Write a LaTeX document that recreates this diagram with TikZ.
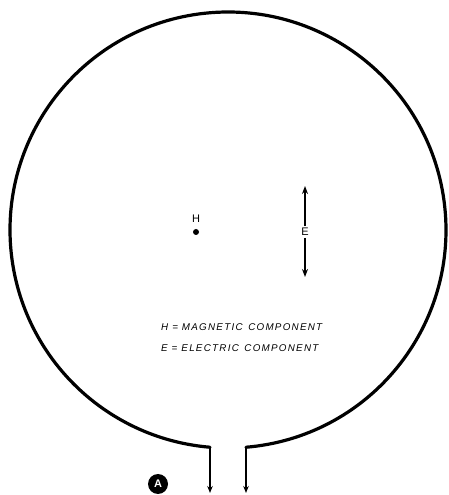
\documentclass[tikz,border=0pt]{standalone}
\usepackage{fontspec}
\setmainfont{Liberation Sans}
\newfontfamily\legendfont[LetterSpace=13]{Liberation Sans}
\usetikzlibrary{positioning, calc, arrows.meta}

\begin{document}
\begin{tikzpicture}[
  x=1pt, y=1pt,
  ring/.style={line width=3.2pt, line cap=round},
  lead/.style={line width=1.8pt, -{Stealth[length=7pt, width=5.5pt]}},
  efield/.style={line width=1.4pt, -{Stealth[length=8pt, width=6pt]}},
  letter/.style={font=\fontsize{11}{13}\selectfont, inner sep=2pt},
  legend/.style={font=\legendfont\itshape\fontsize{9.8}{12}\selectfont, anchor=west, inner sep=0pt},
  badge/.style={circle, fill=black, minimum size=20pt, inner sep=0pt,
    text=white, font=\bfseries\fontsize{11}{12}\selectfont}
]
  \useasboundingbox (0,0) rectangle (449,495);

  % loop and its two leads
  \coordinate (c) at (228,265);
  \coordinate (lt) at ([shift={(265.26:218)}]c);
  \coordinate (rt) at ([shift={(274.74:218)}]c);
  \coordinate (la) at (210,2);
  \coordinate (ra) at (246,2);
  \draw[ring] (rt) arc[start angle=274.74, end angle=625.26, radius=218];
  \draw[lead] (lt) -- (la);
  \draw[lead] (rt) -- (ra);

  % field components
  \node[letter] (H) at (196,276) {H};
  \fill (196,263) circle (3pt) coordinate (hdot);
  \node[letter] (E) at (305,263) {E};
  \coordinate (etop) at (305,309);
  \coordinate (ebot) at (305,218);
  \draw[efield] (E) -- (etop);
  \draw[efield] (E) -- (ebot);

  \node[legend] (hleg) at (161,168) {H = MAGNETIC\, COMPONENT};
  \node[legend] (eleg) at (161,147) {E = ELECTRIC\, COMPONENT};

  \node[badge] (A) at (158,11) {A};
\end{tikzpicture}
\end{document}
